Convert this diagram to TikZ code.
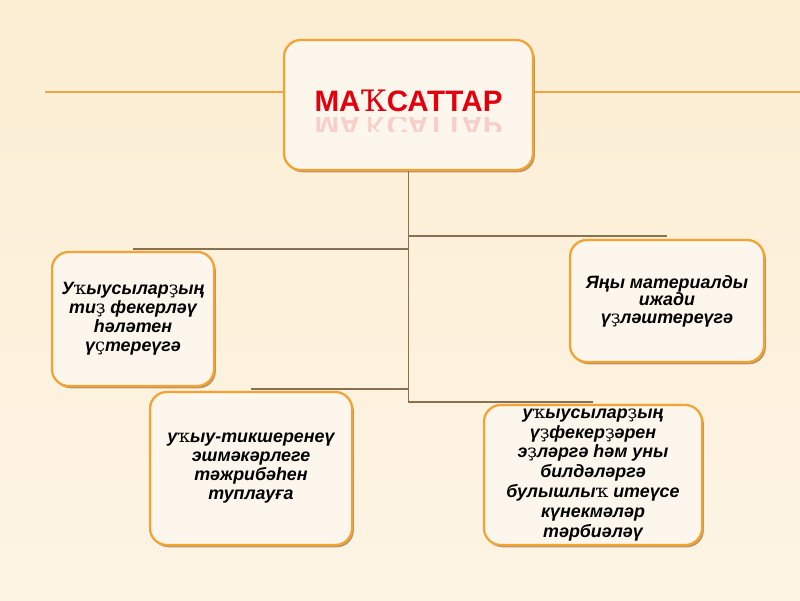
\documentclass[tikz,border=0pt]{standalone}
\usepackage{fontspec}
\setmainfont{Liberation Sans}
\newfontfamily\bqfont{DejaVu Serif}
\usepackage{tikz}
\usetikzlibrary{positioning, shadows, calc}

\definecolor{bgtop}{HTML}{FCEED3}
\definecolor{bgbottom}{HTML}{FDF4E4}
\definecolor{boxfill}{HTML}{FDF6EC}
\definecolor{boxorange}{HTML}{F4A232}
\definecolor{shadowbrown}{HTML}{A8804A}
\definecolor{linkbrown}{HTML}{8A7050}
\definecolor{rulecol}{HTML}{F0A443}
\definecolor{titlered}{HTML}{E2000E}

% Bashkir letters missing from the main font
\newcommand{\bqk}{{\bqfont\mdseries\upshape ҡ}}
\newcommand{\bqK}{{\bqfont\mdseries\upshape Ҡ}}
\newcommand{\bqz}{{\bqfont\mdseries\upshape ҙ}}
\newcommand{\bqs}{{\bqfont\mdseries\upshape ҫ}}

\begin{document}
\begin{tikzpicture}[
    x=0.025cm, y=-0.025cm,
    goalbox/.style={draw=boxorange, line width=1.6pt, fill=boxfill, rounded corners=12pt,
        drop shadow={shadow xshift=1.3pt, shadow yshift=-1.6pt, fill=shadowbrown, opacity=0.8},
        align=center, inner sep=0pt},
    bodytext/.style={font=\fontsize{12.7}{#1}\selectfont\bfseries\itshape},
    titletext/.style={font=\fontsize{21}{24}\selectfont\bfseries, text=titlered},
    link/.style={draw=linkbrown, line width=0.8pt},
]

% Background
\useasboundingbox (0,0) rectangle (800,600);
\shade[top color=bgtop, bottom color=bgbottom] (0,0) rectangle (800,600);

% Rule behind the title
\coordinate (rulestart) at (45,92);
\coordinate (ruleend) at (800,92);
\draw[rulecol, line width=1.3pt] (rulestart) -- (ruleend);

% Junctions on the trunk
\coordinate (jright) at (408,236);
\coordinate (jleft) at (408,249);
\coordinate (jlowleft) at (408,389);
\coordinate (jlowright) at (408,402);

% Boxes
\node[goalbox, minimum width=6.225cm, minimum height=3.25cm] (goals) at (408.5,105) {};
\node[titletext] (title) at (408.5,101) {МА\bqK САТТАР};
\begin{scope}
  \clip (290,117) rectangle (527,131);
  \node[titletext, anchor=base, yscale=-1, opacity=0.16] (titlemirror) at ($(title.base)+(0,4)$) {МА\bqK САТТАР};
\end{scope}

\node[goalbox, bodytext=13.5, minimum width=4.05cm, minimum height=3.35cm] (thinking) at (133,319)
    {У\bqk ыусылар\bqz ың\\ ти\bqz{} фекерләү\\ һәләтен\\ ү\bqs тереүгә};
\node[goalbox, bodytext=12.4, minimum width=4.85cm, minimum height=3.05cm] (material) at (667,301)
    {Яңы материалды\\ ижади\\ ү\bqz ләштереүгә};
\node[goalbox, bodytext=13.5, minimum width=5.05cm, minimum height=3.825cm] (research) at (251,468.5)
    {у\bqk ыу-тикшеренеү\\ эшмәкәрлеге\\ тәжрибәһен\\ туплауға};
\node[goalbox, bodytext=14.2, minimum width=5.45cm, minimum height=3.5cm] (skills) at (593,475)
    {у\bqk ыусылар\bqz ың\\ ү\bqz фекер\bqz әрен\\ э\bqz ләргә һәм уны\\ билдәләргә\\ булышлы\bqk{} итеүсе\\ күнекмәләр\\ тәрбиәләү};

% Connections
\draw[link] (goals.south) -- (goals.south |- jlowright);
\draw[link] (jleft) -- (jleft -| thinking.north);
\draw[link] (jright) -- (jright -| material.north);
\draw[link] (jlowleft) -- (jlowleft -| research.north);
\draw[link] (jlowright) -- (jlowright -| skills.north);

\end{tikzpicture}
\end{document}
